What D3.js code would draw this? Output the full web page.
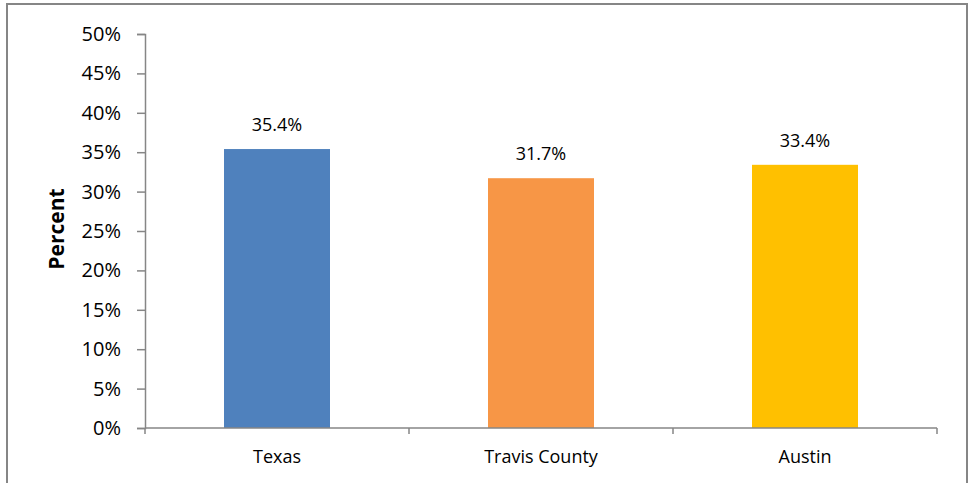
<!DOCTYPE html>
<html><head><meta charset="utf-8">
<script src="https://cdn.jsdelivr.net/npm/d3@7"></script>
<style>body{margin:0;background:#fff;}svg{display:block;font-family:"Open Sans","Liberation Sans",sans-serif;}</style>
</head><body>
<script>
const categories = ["Texas", "Travis County", "Austin"];
const values = [35.4, 31.7, 33.4];
const colors = ["#4F81BD", "#F79646", "#FFC000"];
const yTicks = [0, 5, 10, 15, 20, 25, 30, 35, 40, 45, 50];

const W = 975, H = 483;
const svg = d3.select("body").append("svg").attr("width", W).attr("height", H);
svg.append("rect").attr("x", 7).attr("y", 4).attr("width", 960).attr("height", 482)
  .attr("fill", "#fff").attr("stroke", "#868686").attr("stroke-width", 2);

const mLeft = 145, mRight = 937, mTop = 34, mBottom = 428;
const xb = d3.scaleBand().domain(categories).range([mLeft, mRight]);
const y = d3.scaleLinear().domain([0, 50]).range([mBottom, mTop]);

// bars
svg.selectAll("rect.bar").data(categories).enter().append("rect")
  .attr("x", d => xb(d) + (xb.bandwidth() - 106) / 2)
  .attr("width", 106)
  .attr("y", (d, i) => y(values[i]))
  .attr("height", (d, i) => y(0) - y(values[i]))
  .attr("fill", (d, i) => colors[i]);

// y axis
const ya = svg.append("g").attr("transform", `translate(${mLeft},0)`)
  .call(d3.axisLeft(y).tickValues(yTicks).tickFormat(d => d + "%").tickSize(8).tickPadding(16));
ya.select(".domain").attr("stroke", "#868686").attr("stroke-width", 1.5);
ya.selectAll(".tick line").attr("stroke", "#868686").attr("stroke-width", 1.5);
ya.selectAll("text").attr("font-size", 20).attr("fill", "#000").attr("font-family", "Open Sans, Liberation Sans, sans-serif");

// x axis
const xa = svg.append("g").attr("transform", `translate(0,${mBottom})`);
xa.append("line").attr("x1", mLeft).attr("x2", mRight).attr("y1", 0).attr("y2", 0)
  .attr("stroke", "#868686").attr("stroke-width", 1.5);
const bounds = categories.map(c => xb(c)).concat([mRight]);
xa.selectAll("line.t").data(bounds).enter().append("line")
  .attr("x1", d => d).attr("x2", d => d).attr("y1", 0).attr("y2", 6)
  .attr("stroke", "#868686").attr("stroke-width", 1.5);
xa.selectAll("text").data(categories).enter().append("text")
  .attr("x", d => xb(d) + xb.bandwidth() / 2).attr("y", 35)
  .attr("text-anchor", "middle").attr("font-size", 18).attr("fill", "#000").text(d => d);

// data labels
svg.selectAll("text.lbl").data(categories).enter().append("text")
  .attr("x", d => xb(d) + xb.bandwidth() / 2)
  .attr("y", (d, i) => y(values[i]) - 18)
  .attr("text-anchor", "middle").attr("font-size", 18).attr("fill", "#000")
  .text((d, i) => values[i].toFixed(1) + "%");

// y title
svg.append("text").attr("transform", "translate(64,229) rotate(-90)")
  .attr("text-anchor", "middle").attr("font-size", 21).attr("font-weight", "bold").attr("fill", "#000")
  .text("Percent");
</script>
</body></html>
